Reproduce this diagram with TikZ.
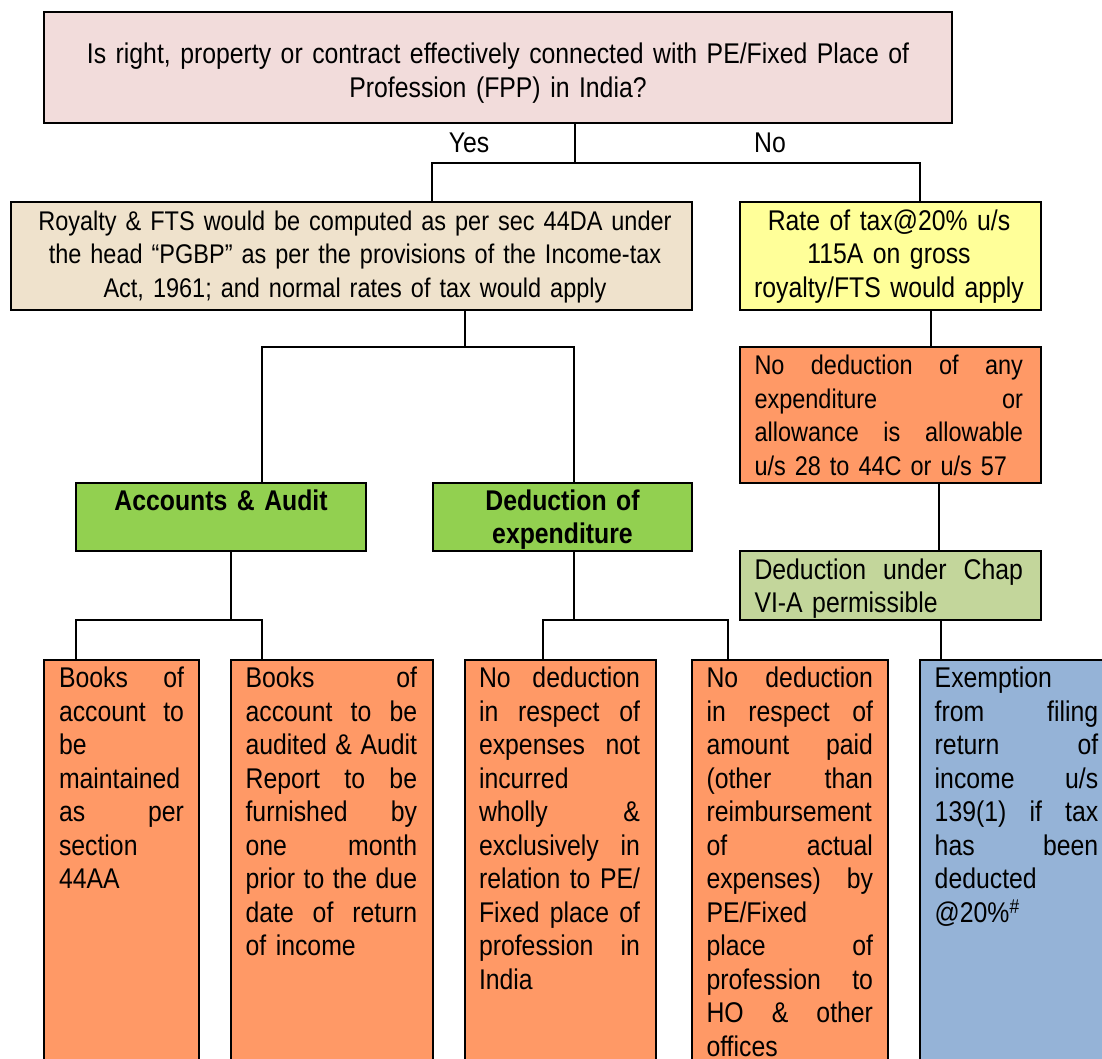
\documentclass[tikz,border=0pt]{standalone}
\usepackage{fontspec}
\setmainfont{Liberation Sans}[FakeStretch=0.87]
\usetikzlibrary{calc}
\definecolor{cq}{HTML}{F2DCDB}
\definecolor{cbeige}{HTML}{EFE2CC}
\definecolor{cyel}{HTML}{FFFF99}
\definecolor{corg}{HTML}{FF9966}
\definecolor{cgrn}{HTML}{92D050}
\definecolor{clgrn}{HTML}{C3D69B}
\definecolor{cblue}{HTML}{95B3D7}
\newcommand\fs{\fontsize{28.5}{33.5}\selectfont}
\newcommand\fss{\fontsize{27}{33.5}\selectfont}
\newlength\jw
\newcommand\jl[1]{\makebox[\jw][l]{#1}}
\newcommand\hf{\hfill}
\begin{document}
\begin{tikzpicture}[x=1pt,y=-1pt,
 bx/.style={draw=black,line width=2pt,anchor=north west,inner sep=0pt,outer sep=0pt},
 ln/.style={line width=1.7pt},
 tx/.style={font=\fs,inner sep=0pt,outer sep=0pt,align=left,anchor=north west},
 tc/.style={font=\fs,inner sep=0pt,outer sep=0pt,align=center,anchor=north},
 lbl/.style={font=\fs,inner sep=0pt,anchor=base}]
\useasboundingbox (0,0) rectangle (1102,1059);
\clip (0,0) rectangle (1102,1059);
% boxes
\node[bx,fill=cq,minimum width=908pt,minimum height=111pt] (q) at (44,12) {};
\node[bx,fill=cbeige,minimum width=681pt,minimum height=108pt] (roy) at (11,202) {};
\node[bx,fill=cyel,minimum width=301pt,minimum height=108pt] (rate) at (740,202) {};
\node[bx,fill=corg,minimum width=301pt,minimum height=136pt] (nod) at (740,347) {};
\node[bx,fill=clgrn,minimum width=301pt,minimum height=69pt] (chap) at (740,551) {};
\node[bx,fill=cgrn,minimum width=290pt,minimum height=68pt] (acc) at (76,483) {};
\node[bx,fill=cgrn,minimum width=259pt,minimum height=68pt] (ded) at (433,483) {};
\node[bx,fill=corg,minimum width=155pt,minimum height=420pt] (b1) at (44,660) {};
\node[bx,fill=corg,minimum width=202pt,minimum height=420pt] (b2) at (231,660) {};
\node[bx,fill=corg,minimum width=191pt,minimum height=420pt] (b3) at (465,660) {};
\node[bx,fill=corg,minimum width=196pt,minimum height=420pt] (b4) at (692,660) {};
\node[bx,fill=cblue,minimum width=200pt,minimum height=420pt] (b5) at (920,660) {};
% connectors
\coordinate (j1) at (575,163);
\draw[ln] (q.south -| j1) -- (j1);
\draw[ln] ([xshift=421pt]roy.north west) |- (j1) -| ([xshift=180pt]rate.north west);
\coordinate (j2) at (465,347);
\draw[ln] (roy.south -| j2) -- (j2);
\draw[ln] ([xshift=186pt]acc.north west) |- (j2) -| ([xshift=141pt]ded.north west);
\draw[ln] ([xshift=191pt]rate.south west) -- ([xshift=191pt]nod.north west);
\draw[ln] ([xshift=199pt]nod.south west) -- ([xshift=199pt]chap.north west);
\draw[ln] ([xshift=201pt]chap.south west) -- ([xshift=21pt]b5.north west);
\coordinate (j3) at (231,620);
\draw[ln] (acc.south -| j3) -- (j3);
\draw[ln] ([xshift=32pt]b1.north west) |- (j3) -| ([xshift=31pt]b2.north west);
\coordinate (j4) at (574,620);
\draw[ln] (ded.south -| j4) -- (j4);
\draw[ln] ([xshift=78pt]b3.north west) |- (j4) -| ([xshift=36pt]b4.north west);
% labels
\node[lbl] (yes) at (469,153) {Yes};
\node[lbl] (no) at (770,153) {No};
% texts
\node[tc,text width=890pt] (tq) at (498,40.5) {\strut Is right, property or contract effectively connected with PE/Fixed Place of\\Profession (FPP) in India?};
\node[tc,font=\fss,text width=670pt] (troy) at (355,207) {\strut Royalty \& FTS would be computed as per sec 44DA under\\the head “PGBP” as per the provisions of the Income-tax\\Act, 1961; and normal rates of tax would apply};
\node[tc,text width=292pt] (trate) at (889,207) {\strut Rate of tax@20\% u/s\\115A on gross\\royalty/FTS would apply};
\node[tx,font=\fss,text width=268.5pt] (tnod) at (754.5,351.5) {\setlength\jw{268.5pt}\strut\jl{No\hf deduction\hf of\hf any}\\\jl{expenditure\hf or}\\\jl{allowance\hf is\hf allowable}\\u/s 28 to 44C or u/s 57};
\node[tx,text width=268.5pt] (tchap) at (754.5,556) {\setlength\jw{268.5pt}\strut\jl{Deduction\hf under\hf Chap}\\VI-A permissible};
\node[tc,font=\fs\bfseries,text width=280pt] (tacc) at (221,487) {\strut Accounts \& Audit};
\node[tc,font=\fs\bfseries,text width=250pt] (tded) at (562.5,487) {\strut Deduction of\\expenditure};
\node[tx,text width=125pt] (t1) at (59,664.5) {\setlength\jw{125pt}\strut\jl{Books\hf of}\\\jl{account\hf to}\\be\\maintained\\\jl{as\hf per}\\section\\44AA};
\node[tx,text width=171.5pt] (t2) at (245.6,664.5) {\setlength\jw{171.5pt}\strut\jl{Books\hf of}\\\jl{account\hf to\hf be}\\\jl{audited\hf \&\hf Audit}\\\jl{Report\hf to\hf be}\\\jl{furnished\hf by}\\\jl{one\hf month}\\\jl{prior\hf to\hf the\hf due}\\\jl{date\hf of\hf return}\\of income};
\node[tx,text width=161pt] (t3) at (479,664.5) {\setlength\jw{161pt}\strut\jl{No\hf deduction}\\\jl{in\hf respect\hf of}\\\jl{expenses\hf not}\\incurred\\\jl{wholly\hf \&}\\\jl{exclusively\hf in}\\\jl{relation\hf to\hf PE/}\\\jl{Fixed\hf place\hf of}\\\jl{profession\hf in}\\India};
\node[tx,text width=166.5pt] (t4) at (706.5,664.5) {\setlength\jw{166.5pt}\strut\jl{No\hf deduction}\\\jl{in\hf respect\hf of}\\\jl{amount\hf paid}\\\jl{(other\hf than}\\reimbursement\\\jl{of\hf actual}\\\jl{expenses)\hf by}\\PE/Fixed\\\jl{place\hf of}\\\jl{profession\hf to}\\\jl{HO\hf \&\hf other}\\offices};
\node[tx,text width=163.5pt] (t5) at (934.7,664.5) {\setlength\jw{163.5pt}\strut Exemption\\\jl{from\hf filing}\\\jl{return\hf of}\\\jl{income\hf u/s}\\\jl{139(1)\hf if\hf tax}\\\jl{has\hf been}\\deducted\\@20\%\textsuperscript{\#}};
\end{tikzpicture}
\end{document}
